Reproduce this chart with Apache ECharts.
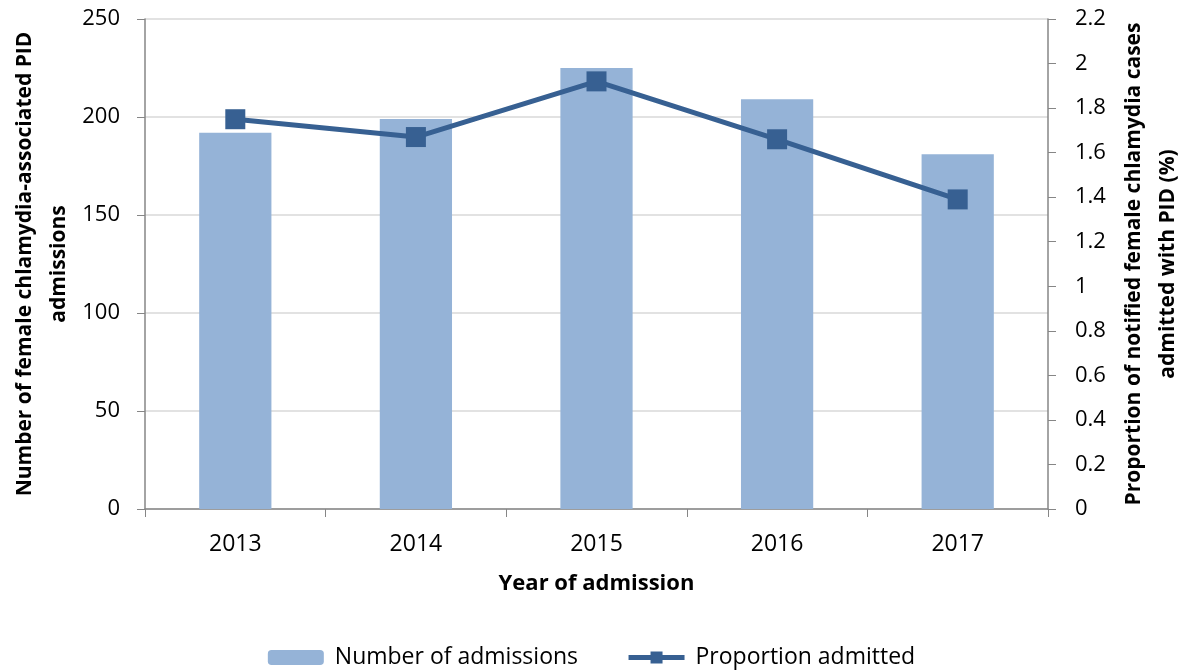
<!DOCTYPE html>
<html>
<head>
<meta charset="utf-8">
<script src="https://cdn.jsdelivr.net/npm/echarts@6/dist/echarts.min.js"></script>
<style>
  html, body { margin: 0; padding: 0; background: #fff; }
  #chart { width: 1183px; height: 670px; }
</style>
</head>
<body>
<div id="chart"></div>
<script>
const years = ["2013", "2014", "2015", "2016", "2017"];
const admissions = [192, 199, 225, 209, 181];
const proportion = [1.75, 1.67, 1.92, 1.66, 1.39];

const font = "Open Sans";
const axisGray = "#868686";

let chart = echarts.init(document.getElementById("chart"));

let option = {
    animation: false,
    textStyle: { fontFamily: font },
    grid: { left: 145, right: 135, top: 19, bottom: 161, containLabel: false, outerBoundsMode: "none" },
    legend: {
        top: 641,
        left: "center",
        itemWidth: 56,
        itemHeight: 15,
        itemGap: 48,
        textStyle: { fontFamily: font, fontSize: 23, color: "#000", padding: [0, 0, 0, 6] },
        data: [
            { name: "Number of admissions" },
            { name: "Proportion admitted", lineStyle: { width: 5, color: "#376092" } }
        ]
    },
    xAxis: {
        type: "category",
        data: years,
        name: "Year of admission",
        nameLocation: "middle",
        nameGap: 64,
        nameMoveOverlap: false,
        nameTextStyle: { fontFamily: font, fontSize: 22, fontWeight: "bold", color: "#000" },
        axisLine: { lineStyle: { color: axisGray, width: 1.5 } },
        axisTick: { show: true, length: 8, lineStyle: { color: axisGray } },
        axisLabel: { fontFamily: font, fontSize: 23, color: "#000", margin: 24 }
    },
    yAxis: [
        {
            type: "value",
            min: 0,
            max: 250,
            interval: 50,
            name: "Number of female chlamydia-associated PID\nadmissions",
            nameLocation: "middle",
            nameGap: 69,
            nameMoveOverlap: false,
            nameTextStyle: { fontFamily: font, fontSize: 21, fontWeight: "bold", color: "#000", lineHeight: 34 },
            axisLine: { show: true, lineStyle: { color: axisGray, width: 1.5 } },
            axisTick: { show: true, length: 8, lineStyle: { color: axisGray } },
            axisLabel: { fontFamily: font, fontSize: 22, color: "#000", margin: 25 },
            splitLine: { lineStyle: { color: "#d9d9d9", width: 1.5 } }
        },
        {
            type: "value",
            min: 0,
            max: 2.2,
            interval: 0.2,
            name: "Proportion of notified female chlamydia cases\nadmitted with PID (%)",
            nameLocation: "middle",
            nameGap: 69,
            nameMoveOverlap: false,
            nameTextStyle: { fontFamily: font, fontSize: 21, fontWeight: "bold", color: "#000", lineHeight: 34 },
            axisLine: { show: true, lineStyle: { color: axisGray, width: 1.5 } },
            axisTick: { show: true, length: 8, lineStyle: { color: axisGray } },
            axisLabel: {
                fontFamily: font, fontSize: 22, color: "#000", margin: 27,
                formatter: v => String(Math.round(v * 10) / 10)
            },
            splitLine: { show: false }
        }
    ],
    series: [
        {
            name: "Number of admissions",
            type: "bar",
            yAxisIndex: 0,
            data: admissions,
            barWidth: "40%",
            itemStyle: { color: "#95b3d7" }
        },
        {
            name: "Proportion admitted",
            type: "line",
            yAxisIndex: 1,
            data: proportion,
            symbol: "rect",
            symbolSize: 20,
            lineStyle: { color: "#376092", width: 5 },
            itemStyle: { color: "#376092" }
        }
    ]
};

chart.setOption(option);
</script>
</body>
</html>
